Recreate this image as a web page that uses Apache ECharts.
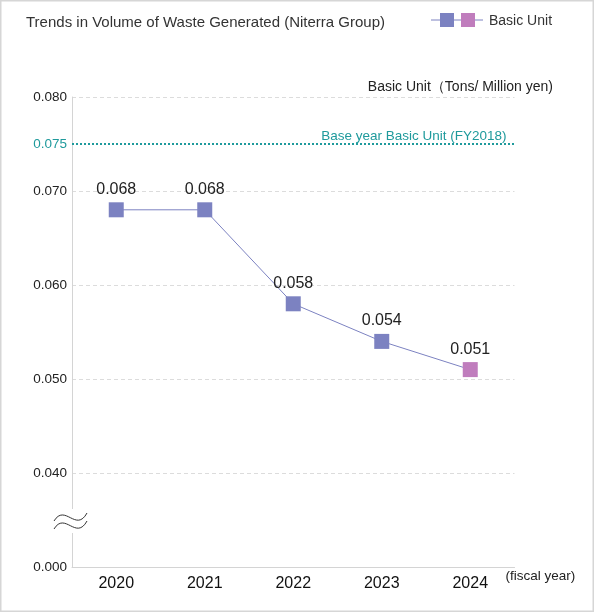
<!DOCTYPE html>
<html>
<head>
<meta charset="utf-8">
<script src="https://cdn.jsdelivr.net/npm/echarts@6/dist/echarts.min.js"></script>
<style>
  html, body { margin: 0; padding: 0; background: #fff; }
  #chart { width: 594px; height: 612px; }
</style>
</head>
<body>
<div id="chart"></div>
<script>
// données du graphique
const years = ['2020', '2021', '2022', '2023', '2024'];
const basicUnit = [0.068, 0.068, 0.058, 0.054, 0.051];
const baseYearValue = 0.075;
const yTicks = [0.03, 0.04, 0.05, 0.06, 0.07, 0.08];
const yTickLabels = ['0.000', '0.040', '0.050', '0.060', '0.070', '0.080'];

const purple = '#7c82c1';
const pink = '#c07dbd';
const teal = '#1f9a9c';
const font = '"Liberation Sans", Arial, sans-serif';

const chart = echarts.init(document.getElementById('chart'));

// dernier point en rose
const seriesData = basicUnit.map((v, i) => (
    i === basicUnit.length - 1 ? { value: v, itemStyle: { color: pink } } : v
));

chart.setOption({
    animation: false,
    textStyle: { fontFamily: font },
    title: {
        text: 'Trends in Volume of Waste Generated (Niterra Group)',
        left: 21,
        top: 10,
        textStyle: { fontSize: 15, fontWeight: 'normal', color: '#333', fontFamily: font }
    },
    grid: { left: 72, top: 97, right: 79.5, bottom: 45 },
    xAxis: {
        type: 'category',
        data: years,
        boundaryGap: true,
        name: '(fiscal year)',
        nameLocation: 'end',
        nameGap: -9,
        nameTextStyle: { color: '#222', fontSize: 13.5, verticalAlign: 'top', padding: [2, 0, 0, 0] },
        axisLine: { lineStyle: { color: '#d4d4d4', width: 1 } },
        axisTick: { show: false },
        axisLabel: { color: '#111', fontSize: 16, margin: 9 }
    },
    yAxis: {
        type: 'value',
        min: 0.03,
        max: 0.08,
        interval: 0.01,
        axisLine: { show: true, lineStyle: { color: '#d4d4d4', width: 1 } },
        axisTick: { show: false },
        axisLabel: {
            color: '#222',
            fontSize: 13.5,
            margin: 5,
            formatter: v => {
                const i = yTicks.findIndex(t => Math.abs(t - v) < 1e-9);
                return i >= 0 ? yTickLabels[i] : '';
            }
        },
        splitLine: { lineStyle: { color: '#dcdcdc', type: [4, 3] } }
    },
    series: [{
        name: 'Basic Unit',
        type: 'line',
        data: seriesData,
        symbol: 'rect',
        symbolSize: 15,
        itemStyle: { color: purple },
        lineStyle: { color: purple, width: 1 },
        label: {
            show: true,
            position: 'top',
            distance: 5,
            color: '#222',
            fontSize: 16,
            formatter: p => p.value.toFixed(3)
        },
        markLine: {
            silent: true,
            symbol: 'none',
            precision: 3,
            lineStyle: { color: teal, type: 'dotted', width: 2 },
            data: [
                { yAxis: baseYearValue, label: { position: 'start', formatter: '0.075', color: teal, fontSize: 13.5, distance: 5 } },
                { yAxis: baseYearValue, label: { position: 'insideEndTop', formatter: 'Base year Basic Unit (FY2018)', color: teal, fontSize: 13.5, distance: [8, 1] } }
            ]
        }
    }],
    graphic: [
        // cadre
        { type: 'rect', shape: { x: 0.5, y: 0.5, width: 593, height: 611 }, style: { fill: 'none', stroke: '#d6d6d6', lineWidth: 2 }, silent: true },
        // légende
        { type: 'line', shape: { x1: 431, y1: 20, x2: 483, y2: 20 }, style: { stroke: purple, lineWidth: 1 } },
        { type: 'rect', shape: { x: 440, y: 13, width: 14, height: 14 }, style: { fill: purple } },
        { type: 'rect', shape: { x: 461, y: 13, width: 14, height: 14 }, style: { fill: pink } },
        { type: 'text', x: 489, y: 21, style: { text: 'Basic Unit', fill: '#333', fontSize: 14, fontFamily: font, verticalAlign: 'middle' } },
        // unité de l'axe
        { type: 'text', x: 553, y: 87, style: { text: 'Basic Unit（Tons/ Million yen)', fill: '#222', fontSize: 14, fontFamily: font, align: 'right', verticalAlign: 'middle' } },
        // coupure de l'axe
        { type: 'rect', shape: { x: 68, y: 509, width: 8, height: 24 }, style: { fill: '#fff' }, z: 10 },
        { type: 'bezierCurve', shape: { x1: 54, y1: 521, cpx1: 65, cpy1: 503, cpx2: 76, cpy2: 533, x2: 87, y2: 513 }, style: { fill: 'none', stroke: '#333', lineWidth: 1 }, z: 11 },
        { type: 'bezierCurve', shape: { x1: 54, y1: 529, cpx1: 65, cpy1: 511, cpx2: 76, cpy2: 541, x2: 87, y2: 521 }, style: { fill: 'none', stroke: '#333', lineWidth: 1 }, z: 11 }
    ]
});
</script>
</body>
</html>
